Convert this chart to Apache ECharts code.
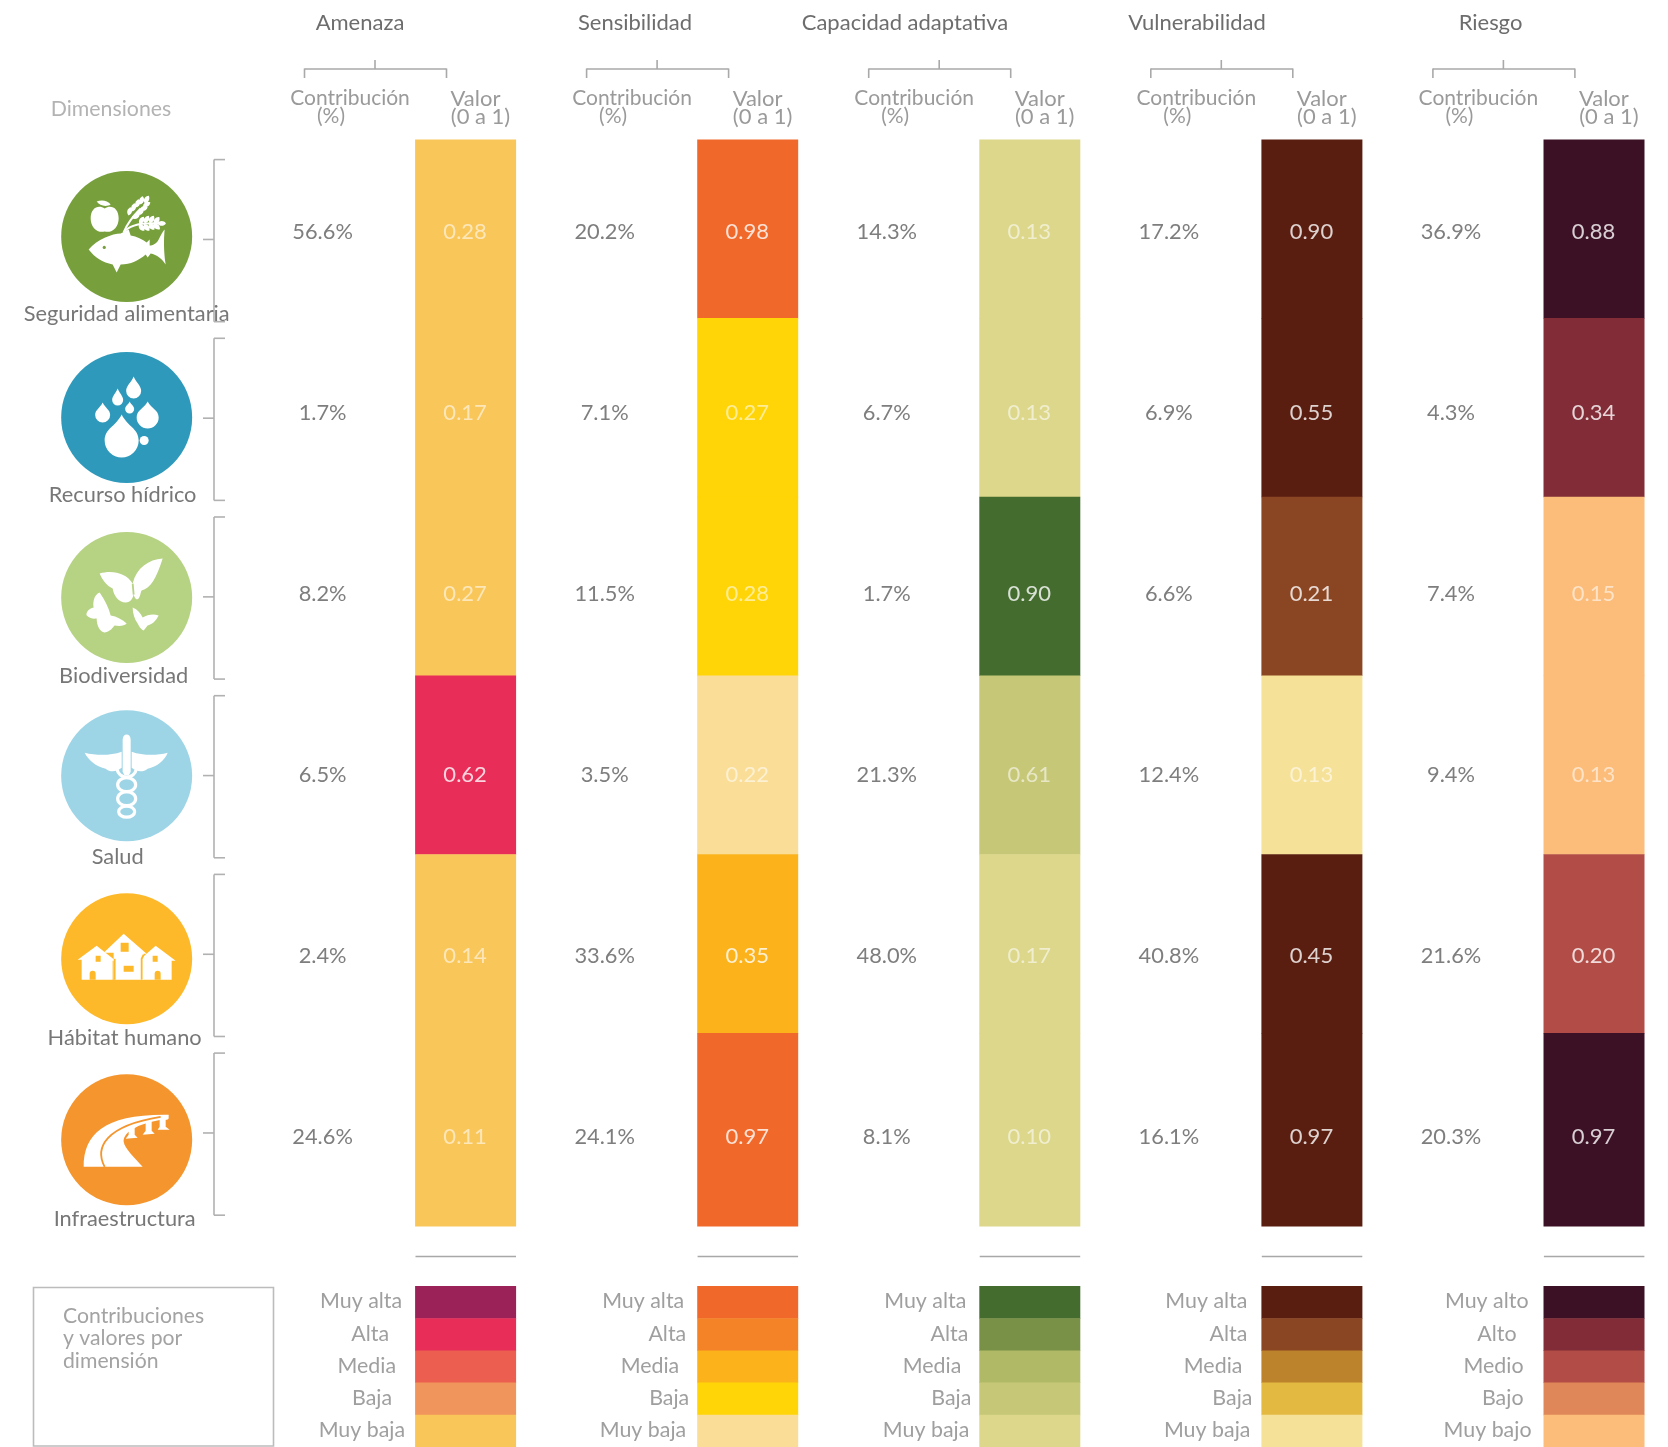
<!DOCTYPE html>
<html lang="es">
<head>
<meta charset="utf-8">
<title>Contribuciones y valores por dimensión</title>
<style>html,body{margin:0;padding:0;background:#fff}#chart{width:1668px;height:1447px}</style>
<script src="https://cdn.jsdelivr.net/npm/echarts@6/dist/echarts.min.js"></script>
</head>
<body>
<div id="chart"></div>
<script>
// ---------- DATA ----------
const columnas = ['Amenaza', 'Sensibilidad', 'Capacidad adaptativa', 'Vulnerabilidad', 'Riesgo'];
const dimensiones = ['Seguridad alimentaria', 'Recurso hídrico', 'Biodiversidad', 'Salud', 'Hábitat humano', 'Infraestructura'];

const contribucionAmenaza = ['56.6%', '1.7%', '8.2%', '6.5%', '2.4%', '24.6%'];
const contribucionSensibilidad = ['20.2%', '7.1%', '11.5%', '3.5%', '33.6%', '24.1%'];
const contribucionCapacidad = ['14.3%', '6.7%', '1.7%', '21.3%', '48.0%', '8.1%'];
const contribucionVulnerabilidad = ['17.2%', '6.9%', '6.6%', '12.4%', '40.8%', '16.1%'];
const contribucionRiesgo = ['36.9%', '4.3%', '7.4%', '9.4%', '21.6%', '20.3%'];

const valorAmenaza = ['0.28', '0.17', '0.27', '0.62', '0.14', '0.11'];
const valorSensibilidad = ['0.98', '0.27', '0.28', '0.22', '0.35', '0.97'];
const valorCapacidad = ['0.13', '0.13', '0.90', '0.61', '0.17', '0.10'];
const valorVulnerabilidad = ['0.90', '0.55', '0.21', '0.13', '0.45', '0.97'];
const valorRiesgo = ['0.88', '0.34', '0.15', '0.13', '0.20', '0.97'];

// class of each cell: 0 muy alta ... 4 muy baja
const claseAmenaza = [4, 4, 4, 1, 4, 4];
const claseSensibilidad = [0, 3, 3, 4, 2, 0];
const claseCapacidad = [4, 4, 0, 3, 4, 4];
const claseVulnerabilidad = [0, 0, 1, 4, 0, 0];
const claseRiesgo = [0, 1, 4, 4, 2, 0];

const coloresAmenaza = ['#9b2159', '#e92d59', '#ec5e50', '#f0955b', '#f9c65a'];
const coloresSensibilidad = ['#f0692b', '#f48226', '#fbb21b', '#ffd507', '#fadd96'];
const coloresCapacidad = ['#446c2f', '#789146', '#b0ba66', '#c6c777', '#dcd78a'];
const coloresVulnerabilidad = ['#5a1e11', '#8a4522', '#bd822c', '#e3b942', '#f5e298'];
const coloresRiesgo = ['#3d1125', '#812c36', '#b24c46', '#df8758', '#fcbc7a'];

const leyendaFemenina = ['Muy alta', 'Alta', 'Media', 'Baja', 'Muy baja'];
const leyendaMasculina = ['Muy alto', 'Alto', 'Medio', 'Bajo', 'Muy bajo'];

const contribuciones = [contribucionAmenaza, contribucionSensibilidad, contribucionCapacidad, contribucionVulnerabilidad, contribucionRiesgo];
const valores = [valorAmenaza, valorSensibilidad, valorCapacidad, valorVulnerabilidad, valorRiesgo];
const clases = [claseAmenaza, claseSensibilidad, claseCapacidad, claseVulnerabilidad, claseRiesgo];
const colores = [coloresAmenaza, coloresSensibilidad, coloresCapacidad, coloresVulnerabilidad, coloresRiesgo];
const leyendas = [leyendaFemenina, leyendaFemenina, leyendaFemenina, leyendaFemenina, leyendaMasculina];

// ---------- LAYOUT ----------
const FONT = 'Lato, "Open Sans", sans-serif';
const X0 = 234, PITCH = 282.1, BAR_FROM = 0.642, BAR_TO = 1;
const ROW_EDGES = [0, 1, 2, 3, 4, 5, 6.08];
const DATA_TOP = 139.4, DATA_H = 1086.5, LEG_TOP = 1286, LEG_H = 161;
const CONTRIB_X = 0.314;
const HEAD_X = [360, 635, 905, 1197, 1490.5];
const LEG_GAP = [[13, 26, 19, 23, 10], [13, 11, 18, 8, 11], [13, 11, 18, 8, 10], [14, 14, 19, 9, 11], [15, 27, 20, 20, 12]];
const NAME_DX = [0, -4, -3, -9, -2, -2];
const ICON_DY = [6.5, 6.5, 5.5, 2.5, 4.5, 4.5];
const ICON_COLOR = ['#77a03c', '#2e99bb', '#b6d283', '#9dd5e6', '#fdb92a', '#f4952d'];

// ---------- ICONS (glyphs drawn in a box centred on the circle) ----------
function drop(cx, top, w, h) {
  const r = w / 2, yc = top + h - r;
  return `M${cx},${top} C${cx + r * 0.35},${top + h * 0.28} ${cx + r},${yc - r * 0.7} ${cx + r},${yc} A${r},${r} 0 1 1 ${cx - r},${yc} C${cx - r},${yc - r * 0.7} ${cx - r * 0.35},${top + h * 0.28} ${cx},${top}Z`;
}
function grain(cx, cy, len, w, deg) {
  const a = deg * Math.PI / 180, c = Math.cos(a), s = Math.sin(a);
  const p = (u, v) => `${(cx + u * c - v * s).toFixed(1)},${(cy + u * s + v * c).toFixed(1)}`;
  return `M${p(-len / 2, 0)} C${p(-len / 4, -w)} ${p(len / 4, -w)} ${p(len / 2, 0)} C${p(len / 4, w)} ${p(-len / 4, w)} ${p(-len / 2, 0)}Z`;
}
const wheat = [];
[[3, -25, -75], [7, -29, -75], [11, -33, -75], [15, -36, -75], [9, -20, -20], [13, -24, -20], [17, -28, -20], [20, -32, -30], [20, -37, -60],
 [15, -16, -60], [20, -17, -60], [25, -17, -60], [30, -16, -50], [15, -9, 50], [20, -9, 50], [25, -10, 50], [30, -10, 40], [35, -13, 0]]
  .forEach(g => wheat.push(grain(g[0], g[1], 8.5, 3.2, g[2])));

const ICONOS = [
  { fill: [
      'M-22,-28 C-16,-32 -8,-29 -8,-18 C-8,-9 -15,-3 -22,-5 C-29,-3 -36,-9 -36,-18 C-36,-29 -28,-32 -22,-28Z',
      'M-30,-35 C-25,-37 -19,-36 -16,-32 C-21,-29 -27,-31 -30,-35Z',
      'M-38,13 C-30,3 -14,-3 -6,-3 L2,-7 L4,-1 C10,0 16,3 20,6 L23,3 L23,9 C26,9 30,7 32,3 C34,-1 36,-5 38,-7 C37,3 37,15 39,28 C36,23 30,18 24,17 L21,21 L19,18 C12,24 4,28 -6,28 L-10,36 L-14,28 C-24,26 -32,21 -38,13Z',
      wheat.join(' ')],
    line: ['M-3,-4 C0,-12 4,-18 14,-28', 'M-3,-4 C2,-11 14,-14 32,-13'],
    cut: ['M-24,11 a1.6,1.6 0 1 0 3.2,0 a1.6,1.6 0 1 0 -3.2,0Z'] },
  { fill: [
      drop(-5, -3, 34, 43), drop(21, -16, 22, 27), drop(-24, -15, 15, 20),
      drop(7, -41, 15, 22), drop(-9, -29, 11, 17), drop(3, -16, 9, 12),
      'M13,23 a4.5,4.5 0 1 0 9,0 a4.5,4.5 0 1 0 -9,0Z'] },
  { fill: [
      'M6,-14 C0,-24 -14,-28 -27,-24 C-24,-17 -20,-12 -14,-9 C-13,-2 -8,5 -1,5 C4,5 6,1 7,-3 C8,1 10,3 12,1 C14,-2 14,-6 15,-7 C24,-9 30,-20 36,-39 C22,-38 10,-30 6,-14Z',
      'M-27,-5 C-33,-3 -34,6 -33,10 C-38,11 -41,15 -40,18 C-36,22 -32,21 -30,21 C-30,28 -27,34 -22,35 C-16,34 -14,30 -12,28 C-6,29 -2,28 0,26 C-4,22 -10,19 -16,18 C-18,10 -22,2 -27,-5Z',
      'M6,10 C11,12 14,16 16,20 C21,17 27,16 32,18 C29,24 25,27 21,28 L17,33 C14,32 12,28 11,26 C8,22 6,16 6,10Z'],
    seam: ['M6,-14 L7,-3'] },
  { fill: [
      'M-42,-23 C-30,-20 -16,-20 -5,-24 L-5,-8 C-10,-4 -16,-3 -21,-7 C-30,-9 -38,-15 -42,-23Z',
      'M41,-23 C30,-20 16,-20 5,-24 L5,-8 C10,-4 16,-3 21,-7 C30,-9 38,-15 41,-23Z',
      'M-4,-36 C-4,-43 4,-43 4,-36 L4,-4 L2,0 L-2,0 L-4,-4Z'],
    line: ['M-9,9 a9,7 0 1 0 18,0 a9,7 0 1 0 -18,0Z', 'M-9,23 a9,7 0 1 0 18,0 a9,7 0 1 0 -18,0Z', 'M-8,36 a8,5.5 0 1 0 16,0 a8,5.5 0 1 0 -16,0Z', 'M0,2 C-12,-1 -11,-11 -7,-13', 'M0,2 C12,-1 11,-11 7,-13'],
    lw: 3.2 },
  { fill: [
      'M-49,1 L-30,-13 L-11,2 L-14,2 L-14,21 L-45,21 L-45,1Z',
      'M-23,-6 L-3,-25 L20,-5 L17,-5 L17,21 L-13,21 L-13,-6Z',
      'M13,1 L29,-13 L49,2 L45,2 L45,21 L14,21Z'],
    cut: [
      'M-37,21 L-37,15 A3,3 0 0 1 -31,15 L-31,21Z', 'M-31,-3 h5 v6 h-5Z',
      'M-6,-16 h8 v9 h-8Z', 'M-3,7 h10 v6 h-10Z',
      'M28,21 L28,15 A3,3 0 0 1 34,15 L34,21Z', 'M26,-3 h5 v6 h-5Z'],
    seam: ['M-12,0 L-12,21', 'M17,-4 L15,0 L15,21'] },
  { fill: [
      'M-43,27 C-43,-6 -22,-26 42,-25 L42,-21 C14,-18 -4,-8 -3,2 C-2,9 8,18 16,27Z',
      'M-1,-1 L2,-5 L2,-14 L0,-14 L0,-17 L9,-19 L9,-16 L8,-16 L8,-5 L11,-2Z',
      'M16,-5 L19,-9 L19,-19 L17,-19 L17,-21 L27,-22 L27,-19 L25,-19 L25,-9 L28,-6Z',
      'M31,-10 L33,-13 L33,-20 L31,-20 L31,-22 L41,-23 L41,-20 L39,-20 L39,-13 L43,-10Z'],
    seam: ['M-22,27 C-32,8 -22,-14 34,-23'] }
];

// ---------- SERIES HELPERS ----------
const celdas = [];
columnas.forEach((c, i) => clases[i].forEach((k, r) => celdas.push([i, r, colores[i][k], valores[i][r]])));
const leyendaCeldas = [];
columnas.forEach((c, i) => colores[i].forEach((col, r) => leyendaCeldas.push([i, r, col, leyendas[i][r], LEG_GAP[i][r]])));
const textosFila = [];
columnas.forEach((c, i) => contribuciones[i].forEach((t, r) => textosFila.push([i, dimensiones[r], t, valores[i][r], clases[i][r]])));
const iconos = dimensiones.map((d, r) => [d, r]);

function txt(text, x, y, size, fill, align, extra) {
  return Object.assign({ type: 'text', silent: true, style: { text, x, y, fontFamily: FONT, fontSize: size, fontWeight: 400, fill, align: align || 'center', verticalAlign: 'middle' } }, extra || {});
}
function ln(x1, y1, x2, y2, col) {
  return { type: 'line', silent: true, shape: { x1, y1, x2, y2 }, style: { stroke: col || '#a9a9a9', lineWidth: 1.6 } };
}

// furniture drawn once per column
const muebles = [];
HEAD_X.forEach((hx, i) => muebles.push(txt(columnas[i], hx, 23, 22, '#6d6d6d')));
columnas.forEach((c, i) => {
  const d = i * PITCH, L = '#a9a9a9', T = '#9a9a9a';
  muebles.push(ln(304.5 + d, 69, 446.5 + d, 69, L), ln(304.5 + d, 68.5, 304.5 + d, 78, L), ln(446.5 + d, 68.5, 446.5 + d, 78, L), ln(375 + d, 60, 375 + d, 69, L));
  muebles.push(txt('Contribución', 350 + d, 98.5, 21, T), txt('(%)', 331 + d, 116.5, 21, T), txt('Valor', 475.5 + d, 98.5, 22, T), txt('(0 a 1)', 480.5 + d, 116.5, 22, T));
  muebles.push(ln(415.5 + d, 1256.5, 516 + d, 1256.5, '#a8a8a8'));
});
muebles.push(txt('Dimensiones', 111, 109.5, 21.3, '#b3b3b3'));
muebles.push({ type: 'rect', silent: true, shape: { x: 33.5, y: 1287.5, width: 240, height: 158.5 }, style: { fill: 'none', stroke: '#bcbcbc', lineWidth: 1.6 } });
['Contribuciones', 'y valores por', 'dimensión'].forEach((t, i) => muebles.push(txt(t, 63, 1316 + i * 22.5, 21.2, '#a3a3a3', 'left')));

const option = {
  animation: false,
  backgroundColor: '#fff',
  grid: [
    { left: X0, top: DATA_TOP, width: PITCH * 5, height: DATA_H, containLabel: false },
    { left: X0, top: LEG_TOP, width: PITCH * 5, height: LEG_H, containLabel: false }
  ],
  xAxis: [
    { type: 'value', gridIndex: 0, min: 0, max: 5, show: false },
    { type: 'value', gridIndex: 1, min: 0, max: 5, show: false }
  ],
  yAxis: [
    { type: 'value', gridIndex: 0, min: 0, max: 6.08, inverse: true, show: false },
    { type: 'category', gridIndex: 0, data: dimensiones, inverse: true, show: false },
    { type: 'value', gridIndex: 1, min: 0, max: 5, inverse: true, show: false }
  ],
  graphic: { elements: muebles },
  series: [
    { // value cells
      type: 'custom', coordinateSystem: 'cartesian2d', xAxisIndex: 0, yAxisIndex: 0, silent: true,
      data: celdas.map(c => [c[0], c[1]]),
      renderItem(p, api) {
        const i = api.value(0), r = api.value(1);
        const a = api.coord([i + BAR_FROM, ROW_EDGES[r]]), b = api.coord([i + BAR_TO, ROW_EDGES[r + 1]]);
        return { type: 'rect', shape: { x: a[0], y: a[1], width: b[0] - a[0], height: b[1] - a[1] + 0.5 }, style: { fill: celdas[p.dataIndex][2] } };
      }
    },
    { // brackets next to each dimension
      type: 'custom', coordinateSystem: 'cartesian2d', xAxisIndex: 0, yAxisIndex: 0, silent: true,
      data: dimensiones.map((d, r) => [r]),
      renderItem(p, api) {
        const r = api.value(0);
        const t = api.coord([0, r + 0.113]), m = api.coord([0, r + 0.56]), b = api.coord([0, r + 1.02]);
        const x = 214;
        return { type: 'group', children: [
          ln(x, t[1], x, b[1], '#b1b1b1'), ln(x, t[1], x + 11, t[1], '#b1b1b1'), ln(x, b[1], x + 11, b[1], '#b1b1b1'), ln(x - 11, m[1], x, m[1], '#b1b1b1')
        ] };
      }
    },
    { // contribution and value numbers
      type: 'custom', coordinateSystem: 'cartesian2d', xAxisIndex: 0, yAxisIndex: 1, silent: true, z: 5,
      data: textosFila.map(t => [t[0], t[1]]),
      renderItem(p, api) {
        const t = textosFila[p.dataIndex], i = api.value(0);
        const y = api.coord([0, t[1]])[1] + 1.6;
        const a = api.coord([i + CONTRIB_X, 0])[0], b = api.coord([i + (BAR_FROM + BAR_TO) / 2, 0])[0] - 0.5;
        const pale = t[4] === 4 || t[4] === 3;
        return { type: 'group', children: [
          txt(t[2], a, y, 21.8, '#7e7e7e'),
          txt(t[3], b, y, 22, pale ? 'rgba(255,255,255,0.58)' : 'rgba(255,255,255,0.8)')
        ] };
      }
    },
    { // dimension circles, glyphs and names
      type: 'custom', coordinateSystem: 'cartesian2d', xAxisIndex: 0, yAxisIndex: 1, silent: true, z: 4,
      data: iconos,
      renderItem(p, api) {
        const r = p.dataIndex, ic = ICONOS[r], col = ICON_COLOR[r];
        const y = api.coord([0, dimensiones[r]])[1];
        const cx = api.coord([-0.3805, 0])[0], cy = y + ICON_DY[r];
        const kids = [{ type: 'circle', shape: { cx: 0, cy: 0, r: 65.5 }, style: { fill: col } }];
        (ic.fill || []).forEach(d => kids.push({ type: 'path', shape: { pathData: d }, style: { fill: '#fff' } }));
        (ic.cut || []).forEach(d => kids.push({ type: 'path', shape: { pathData: d }, style: { fill: col } }));
        (ic.seam || []).forEach(d => kids.push({ type: 'path', shape: { pathData: d }, style: { fill: 'none', stroke: col, lineWidth: 1.8 } }));
        (ic.line || []).forEach(d => kids.push({ type: 'path', shape: { pathData: d }, style: { fill: 'none', stroke: '#fff', lineWidth: ic.lw || 2 } }));
        return { type: 'group', children: [
          { type: 'group', x: cx, y: cy, children: kids },
          txt(dimensiones[r], cx + NAME_DX[r], y + 84, 21.8, '#777')
        ] };
      }
    },
    { // legend swatches and labels
      type: 'custom', coordinateSystem: 'cartesian2d', xAxisIndex: 1, yAxisIndex: 2, silent: true,
      data: leyendaCeldas.map(c => [c[0], c[1]]),
      renderItem(p, api) {
        const c = leyendaCeldas[p.dataIndex], i = api.value(0), r = api.value(1);
        const a = api.coord([i + BAR_FROM, r]), b = api.coord([i + BAR_TO, r + 1]);
        return { type: 'group', children: [
          { type: 'rect', shape: { x: a[0], y: a[1], width: b[0] - a[0], height: b[1] - a[1] + 0.5 }, style: { fill: c[2] } },
          txt(c[3], a[0] - c[4], (a[1] + b[1]) / 2 - 0.5, 21.4, '#9f9f9f', 'right')
        ] };
      }
    }
  ]
};
echarts.init(document.getElementById('chart'), null, { renderer: 'canvas' }).setOption(option);
</script>
</body>
</html>
